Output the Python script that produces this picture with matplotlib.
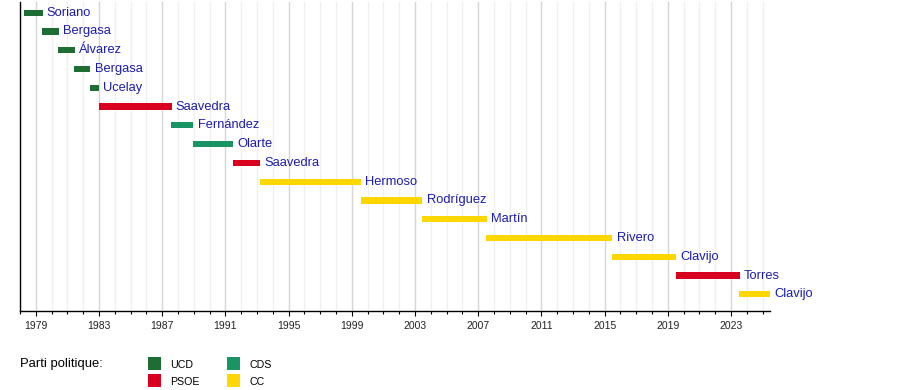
import matplotlib
matplotlib.use("Agg")
import matplotlib.pyplot as plt
from matplotlib.patches import Rectangle
from matplotlib.ticker import MultipleLocator, FixedLocator

plt.rcParams['font.family'] = ['Liberation Sans', 'DejaVu Sans']

# presidents of the Canary Islands government, in decimal years
names = ['Soriano', 'Bergasa', 'Álvarez', 'Bergasa', 'Ucelay', 'Saavedra',
         'Fernández', 'Olarte', 'Saavedra', 'Hermoso', 'Rodríguez', 'Martín',
         'Rivero', 'Clavijo', 'Torres', 'Clavijo']
starts = [1978.25, 1979.4, 1980.4, 1981.4, 1982.42, 1983.0,
          1987.55, 1988.95, 1991.48, 1993.17, 1999.58, 2003.45,
          2007.5, 2015.47, 2019.52, 2023.52]
ends = [1979.44, 1980.44, 1981.45, 1982.46, 1983.0, 1987.6,
        1988.98, 1991.51, 1993.2, 1999.57, 2003.47, 2007.53,
        2015.5, 2019.55, 2023.56, 2025.5]
parties = ['UCD', 'UCD', 'UCD', 'UCD', 'UCD', 'PSOE',
           'CDS', 'CDS', 'PSOE', 'CC', 'CC', 'CC',
           'CC', 'CC', 'PSOE', 'CC']

party_colors = {'UCD': '#1e6d32', 'PSOE': '#d8001e', 'CDS': '#199462', 'CC': '#ffd700'}
legend_order = ['UCD', 'PSOE', 'CDS', 'CC']

year_ticks = [1979, 1983, 1987, 1991, 1995, 1999, 2003, 2007, 2011, 2015, 2019, 2023]

fig = plt.figure(figsize=(9, 3.9), dpi=100)
ax = fig.add_axes([20 / 900, 1 - 310.7 / 390, 750 / 900, 308.7 / 390])

rows = list(range(len(names)))
widths = [e - s for s, e in zip(starts, ends)]
cols = [party_colors[p] for p in parties]
ax.barh(rows, widths, left=starts, height=0.33, color=cols, zorder=3)

for r, e, n in zip(rows, ends, names):
    ax.annotate(n, (e, r), xytext=(3, 0), textcoords='offset points',
                va='center', ha='left', fontsize=9.3, color='#1c1cae', zorder=4)

ax.set_xlim(1978.0, 2025.47)
ax.set_ylim(15.87, -0.57)

ax.xaxis.set_major_locator(FixedLocator(year_ticks))
ax.xaxis.set_minor_locator(MultipleLocator(1))
ax.set_xticklabels([str(y) for y in year_ticks])
ax.tick_params(axis='x', which='major', length=3.5, width=0.8, labelsize=7.5,
               pad=4, colors='black', labelcolor='#222222')
ax.tick_params(axis='x', which='minor', length=2.5, width=0.8)
ax.set_yticks([])

ax.grid(True, axis='x', which='major', color='#d6d6d6', linewidth=1, zorder=0)
ax.grid(True, axis='x', which='minor', color='#f0f0f0', linewidth=1, zorder=0)
ax.set_axisbelow(True)

for side in ['top', 'right']:
    ax.spines[side].set_visible(False)
ax.spines['left'].set_linewidth(1)
ax.spines['bottom'].set_linewidth(1)

# legend
fig.text(20 / 900, 1 - 364 / 390, 'Parti politique:', fontsize=9.4, va='center', ha='left')
for i, p in enumerate(legend_order):
    col = i // 2
    row = i % 2
    x0 = 148 + col * 79
    y0 = 357 + row * 17
    fig.patches.append(Rectangle((x0 / 900, 1 - (y0 + 12.7) / 390), 13 / 900, 12.7 / 390,
                                 transform=fig.transFigure, facecolor=party_colors[p],
                                 edgecolor='none'))
    fig.text((x0 + 22.5) / 900, 1 - (y0 + 8) / 390, p, fontsize=7.7, va='center', ha='left')

fig.savefig('out.png', dpi=100)
